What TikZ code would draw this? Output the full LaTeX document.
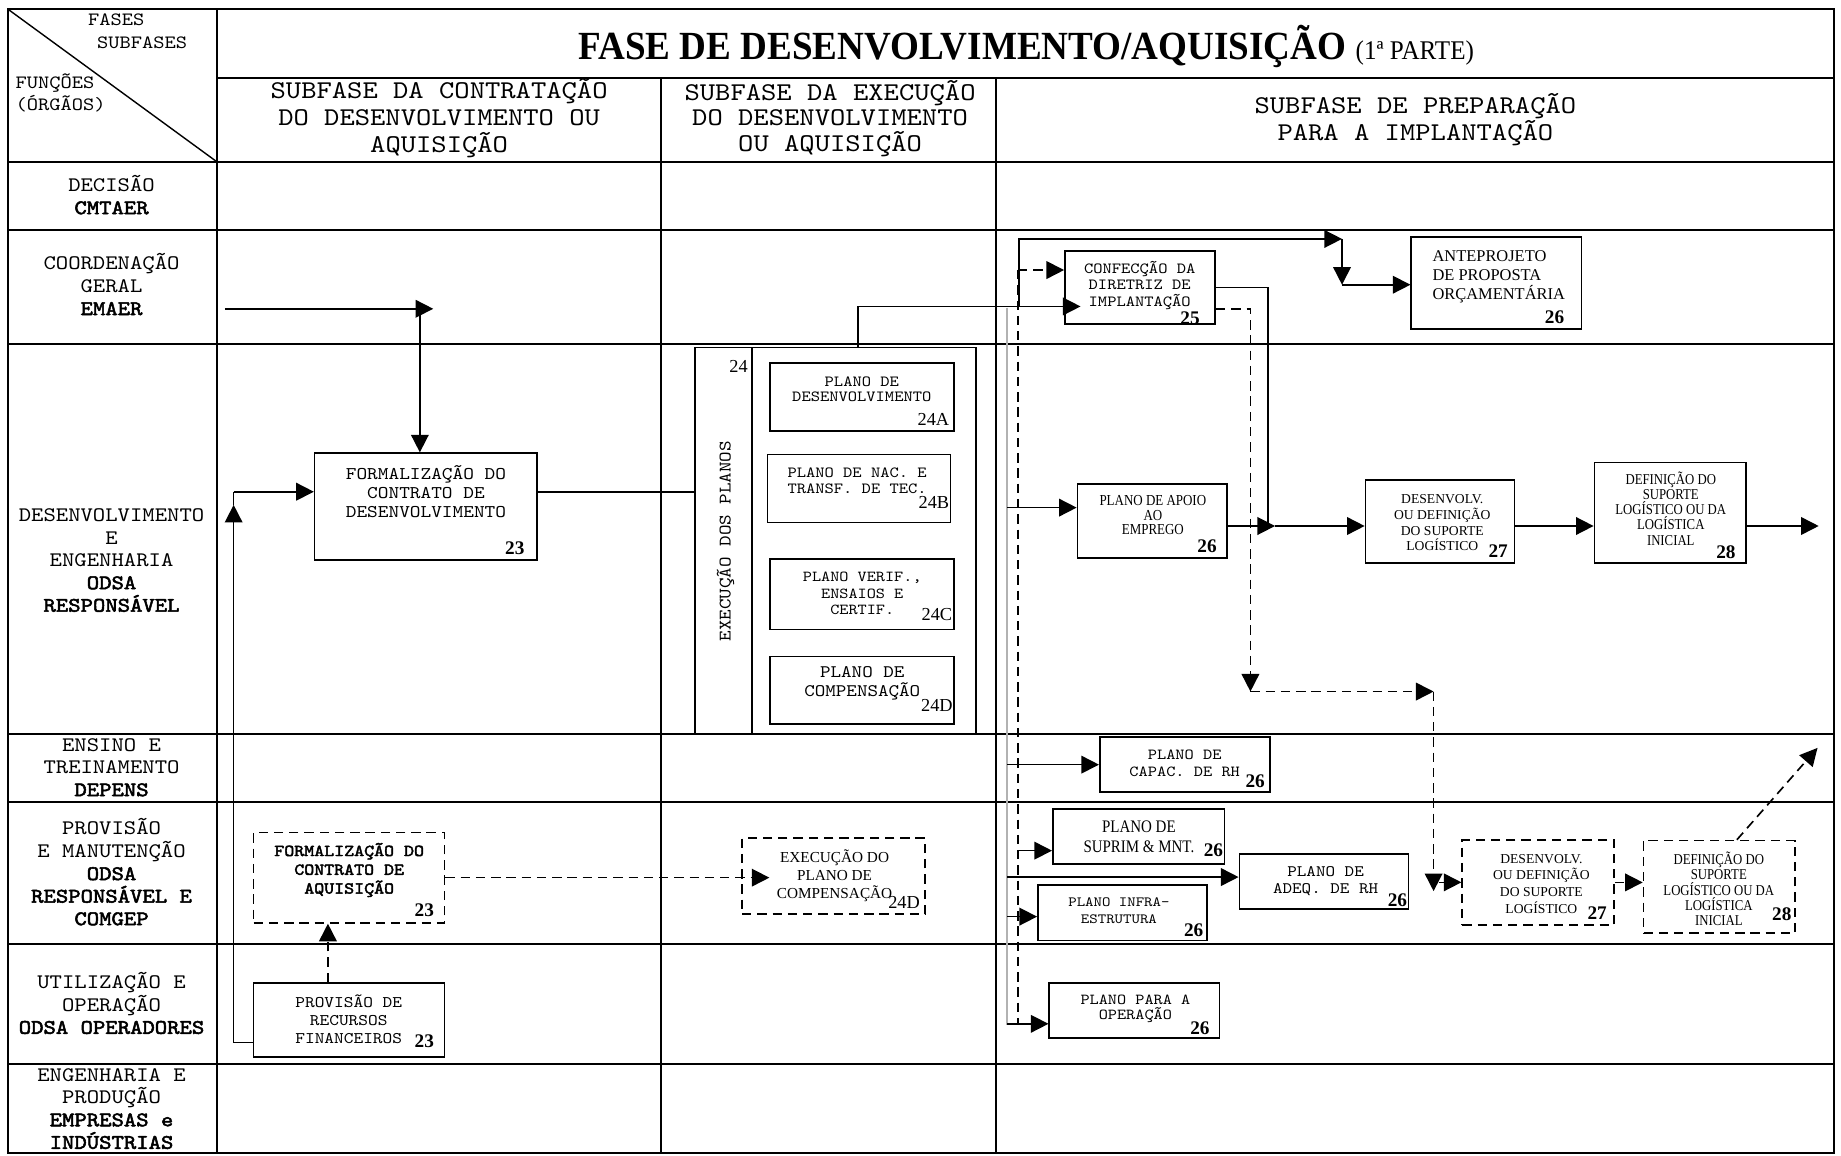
\documentclass[tikz,border=0pt]{standalone}
\usepackage{fontspec}
\setmainfont{Liberation Serif}
\setmonofont{lmmono10-regular}[Extension=.otf, FakeStretch=1.14,
    BoldFont=lmmono10-regular, BoldFeatures={FakeBold=2.5}]
\newfontfamily\condser[FakeStretch=0.85]{Liberation Serif}
\newfontfamily\titleser[FakeStretch=0.93]{Liberation Serif}
\usetikzlibrary{arrows.meta, positioning, fit, calc}

\begin{document}
\begin{tikzpicture}[
    x=0.5pt, y=-0.5pt,
    >={Triangle[length=7.5pt, width=7.5pt]},
    tline/.style={line width=0.8pt},
    box/.style={draw, line width=0.7pt, inner sep=0pt},
    dbox/.style={box, dash pattern=on 4pt off 2.5pt},
    mono/.style 2 args={font=\ttfamily\fontsize{#1}{#2}\selectfont, align=center, inner sep=0pt},
    bmono/.style 2 args={font=\ttfamily\bfseries\fontsize{#1}{#2}\selectfont, align=center, inner sep=0pt},
    ser/.style 2 args={font=\rmfamily\fontsize{#1}{#2}\selectfont, align=center, inner sep=0pt},
    cser/.style 2 args={font=\condser\fontsize{#1}{#2}\selectfont, align=center, inner sep=0pt},
    lbl/.style={mono={8.8}{9.6}},
    hdr/.style={font=\ttfamily\fontsize{10.9}{#1}\selectfont, align=center, inner sep=0pt},
    num/.style={font=\rmfamily\bfseries\fontsize{8.2}{8}\selectfont, inner sep=0pt},
    sub/.style={font=\rmfamily\fontsize{7.8}{8}\selectfont, inner sep=0pt},
    conn/.style={line width=0.7pt},
    arr/.style={conn, ->},
    dsh/.style={conn, dash pattern=on 4pt off 2.5pt},
    darr/.style={dsh, ->},
    bus/.style={line width=0.9pt, gray!60},
]
\path[use as bounding box, fill=white] (0,0) rectangle (1568,984);

% table frame
\draw[tline] (7,8) rectangle (1562,982);
\draw[tline] (185,8) -- (185,982);
\draw[tline] (185,66.5) -- (1562,66.5);
\draw[tline] (563,66.5) -- (563,982);
\draw[tline] (848,66.5) -- (848,982);
\foreach \y in {138,196,293,625,683,804,906}
    \draw[tline] (7,\y) -- (1562,\y);
\draw[line width=0.6pt] (7,8) -- (185,138);

% corner cell and headers
\node[mono={8}{8}] (hFases) at (99,17) {FASES};
\node[mono={8}{8}] (hSub) at (121,36) {SUBFASES};
\node[mono={8}{6.6}, align=left, anchor=west] (hFunc) at (13,79) {FUNÇÕES\\(ÓRGÃOS)};
\node[font=\titleser\bfseries\fontsize{17}{17}\selectfont, anchor=base, inner sep=0pt] (title) at (874,51)
    {FASE DE DESENVOLVIMENTO/AQUISIÇÃO {\mdseries\fontsize{11.5}{12}\selectfont(1ª PARTE)}};
\node[hdr=11.5] (sf1) at (374,101) {SUBFASE DA CONTRATAÇÃO\\DO DESENVOLVIMENTO OU\\AQUISIÇÃO};
\node[hdr=10.8] (sf2) at (707,101) {SUBFASE DA EXECUÇÃO\\DO DESENVOLVIMENTO\\OU AQUISIÇÃO};
\node[hdr=10.8] (sf3) at (1205.5,102) {SUBFASE DE PREPARAÇÃO\\PARA A IMPLANTAÇÃO};

% functions (rows)
\node[lbl] (rDec) at (95,166) {DECISÃO\\\textbf{CMTAER}};
\node[lbl] (rCoord) at (95,242.3) {COORDENAÇÃO\\GERAL\\\textbf{EMAER}};
\node[lbl] (rDes) at (95,477.2) {DESENVOLVIMENTO\\E\\ENGENHARIA\\\textbf{ODSA}\\\textbf{RESPONSÁVEL}};
\node[lbl] (rEns) at (95,653.5) {ENSINO E\\TREINAMENTO\\\textbf{DEPENS}};
\node[lbl] (rProv) at (95,742.75) {PROVISÃO\\E MANUTENÇÃO\\\textbf{ODSA}\\\textbf{RESPONSÁVEL E}\\\textbf{COMGEP}};
\node[lbl] (rUti) at (95,854.5) {UTILIZAÇÃO E\\OPERAÇÃO\\\textbf{ODSA OPERADORES}};
\node[lbl] (rEng) at (95,944.25) {ENGENHARIA E\\PRODUÇÃO\\\textbf{EMPRESAS e}\\\textbf{INDÚSTRIAS}};

% subfase da contratacao
\node[box, fit={(268,386) (457.6,477)}] (fdev) {};
\node[mono={7.6}{8.1}] (fdevT) at (362.8,418.8) {FORMALIZAÇÃO DO\\CONTRATO DE\\DESENVOLVIMENTO};
\node[num] (fdevN) at (438.5,467) {23};

\node[dbox, fit={(216,709) (378.6,786)}] (faq) {};
\node[bmono={7.1}{8}] (faqT) at (297.4,741) {FORMALIZAÇÃO DO\\CONTRATO DE\\AQUISIÇÃO};
\node[num] (faqN) at (361.4,775) {23};

\node[box, fit={(216,837) (378.6,900)}] (prov) {};
\node[mono={6.9}{7.6}] (provT) at (297,868) {PROVISÃO DE\\RECURSOS\\FINANCEIROS};
\node[num] (provN) at (361.4,887) {23};

% subfase da execucao
\node[box, fit={(592,296) (831,625)}] (exo) {};
\draw[line width=0.7pt] (640.7,296) -- (640.7,625);
\node[sub] (exN) at (629,312) {24};
\node[mono={7.5}{7.5}, rotate=90] (exT) at (618,461) {EXECUÇÃO DOS PLANOS};

\node[box, fit={(656,309) (812.5,367)}] (p24a) {};
\node[mono={6.6}{6.65}] (p24aT) at (734,331.5) {PLANO DE\\DESENVOLVIMENTO};
\node[sub] (p24aN) at (795,357) {24A};
\node[box, fit={(653.7,387) (809.5,445)}] (p24b) {};
\node[mono={6.6}{6.7}] (p24bT) at (730,409.3) {PLANO DE NAC. E\\TRANSF. DE TEC.};
\node[sub] (p24bN) at (795.4,428) {24B};
\node[box, fit={(656,476) (812.5,536)}] (p24c) {};
\node[mono={6.5}{6.9}] (p24cT) at (734.4,505.5) {PLANO VERIF.,\\ENSAIOS E\\CERTIF.};
\node[sub] (p24cN) at (798,523) {24C};
\node[box, fit={(656,559) (812.5,616.5)}] (p24d) {};
\node[mono={7.5}{8}] (p24dT) at (734.4,582) {PLANO DE\\COMPENSAÇÃO};
\node[sub] (p24dN) at (798,601) {24D};

\node[dbox, fit={(632,714) (788,778.7)}] (ecomp) {};
\node[ser={6.5}{7.7}] (ecompT) at (710.8,745.7) {EXECUÇÃO DO\\PLANO DE\\COMPENSAÇÃO};
\node[sub] (ecompN) at (770,768.7) {24D};

% subfase de preparacao
\node[box, fit={(907,214) (1035,276)}] (conf) {};
\node[mono={6.6}{6.9}] (confT) at (970.7,243.2) {CONFECÇÃO DA\\DIRETRIZ DE\\IMPLANTAÇÃO};
\node[num] (confN) at (1013.6,271) {25};

\node[box, fit={(1202,202) (1347,280)}] (ante) {};
\node[ser={7}{8}, align=left, anchor=west] (anteT) at (1219.7,236) {ANTEPROJETO\\DE PROPOSTA\\ORÇAMENTÁRIA};
\node[num] (anteN) at (1324,270) {26};

\node[box, fit={(917.7,412.5) (1045,475)}] (apoio) {};
\node[cser={6.5}{6.2}] (apoioT) at (981.9,438.9) {PLANO DE APOIO\\AO\\EMPREGO};
\node[num] (apoioN) at (1028,465) {26};

\node[box, fit={(1163,408.6) (1290,479.5)}] (d27) {};
\node[ser={5.8}{6.7}] (d27T) at (1228.4,445.3) {DESENVOLV.\\OU DEFINIÇÃO\\DO SUPORTE\\LOGÍSTICO};
\node[num] (d27N) at (1276,469.6) {27};

\node[box, fit={(1358,394) (1487,479.5)}] (d28) {};
\node[cser={6.4}{6.5}] (d28T) at (1423,433) {DEFINIÇÃO DO\\SUPORTE\\LOGÍSTICO OU DA\\LOGÍSTICA\\INICIAL};
\node[num] (d28N) at (1470,470) {28};

\node[box, fit={(936.7,627.8) (1081.5,674.7)}] (capac) {};
\node[mono={6.55}{7}] (capacT) at (1009,650) {PLANO DE\\CAPAC. DE RH};
\node[num] (capacN) at (1069,665.6) {26};

\node[box, fit={(896.7,689) (1043,736)}] (suprim) {};
\node[cser={7.5}{8.25}] (suprimT) at (970,712.8) {PLANO DE\\SUPRIM \& MNT.};
\node[num] (suprimN) at (1033.5,724) {26};

\node[box, fit={(1055.6,727.6) (1199.6,774.4)}] (adeq) {};
\node[mono={6.8}{7.4}] (adeqT) at (1129,750.6) {PLANO DE\\ADEQ. DE RH};
\node[num] (adeqN) at (1190.2,766.5) {26};

\node[box, fit={(884,754) (1028,801)}] (infra) {};
\node[mono={6}{7.2}] (infraT) at (953,776) {PLANO INFRA-\\ESTRUTURA};
\node[num] (infraN) at (1016.7,792) {26};

\node[box, fit={(893.7,837) (1038.5,884)}] (oper) {};
\node[mono={6.5}{6.7}] (operT) at (967,859.3) {PLANO PARA A\\OPERAÇÃO};
\node[num] (operN) at (1022,876) {26};

\node[dbox, fit={(1245.4,715.3) (1374.8,787.8)}] (d27b) {};
\node[ser={5.8}{7.1}] (d27bT) at (1312.8,752.7) {DESENVOLV.\\OU DEFINIÇÃO\\DO SUPORTE\\LOGÍSTICO};
\node[num] (d27bN) at (1360.3,777.8) {27};

\node[dbox, fit={(1399.8,715.9) (1528.9,794.9)}] (d28b) {};
\node[cser={6.4}{6.4}] (d28bT) at (1463.9,757) {DEFINIÇÃO DO\\SUPORTE\\LOGÍSTICO OU DA\\LOGÍSTICA\\INICIAL};
\node[num] (d28bN) at (1517.6,778.4) {28};

% coordination arrows
\coordinate (eL) at (191.5,263);
\coordinate (eJ) at (357.6,263);
\coordinate (eR) at (369,263);
\draw[arr] (eL) -- (eR);
\draw[arr] (eJ) -- (eJ |- fdev.north);

% resources loop into the contract
\coordinate (pL) at (199,888);
\coordinate (pU) at (199,430);
\coordinate (pC) at (199,418.8);
\draw[arr] (prov.west |- pL) -| (pU);
\draw[conn] (pU) -- (pC);
\draw[arr] (pC) -- (fdev.west |- pC);
\draw[conn] (fdev.east |- pC) -- (exo.west |- pC);

% plans to the directive
\coordinate (xT) at (730.6,261);
\coordinate (cIn) at ([xshift=7pt]conf.west);
\draw[arr] (exo.north -| xT) -- (xT) -- (cIn |- xT);

\coordinate (jT) at (868,261);
\coordinate (tR) at (1143,203.5);
\coordinate (tD) at (1143,242.5);
\draw[arr] (jT) |- (tR);
\draw[arr] (tR) -- (tD);
\draw[arr] (tD) -- (ante.west |- tD);

% main chain 26 -> 27 -> 28
\coordinate (jV) at (1080,448);
\coordinate (jA) at (1086,448);
\coordinate (oR) at (1549,448);
\draw[conn] (conf.east) -| (jV);
\draw[arr] (apoio.east |- jA) -- (jA);
\draw[arr] (jA) -- (d27.west |- jA);
\draw[arr] (d27.east |- jA) -- (d28.west |- jA);
\draw[arr] (d28.east |- jA) -- (oR);

% dashed branch for acquisition
\coordinate (dA) at (1065,263);
\coordinate (dB) at (1065,589);
\coordinate (dC) at (1221,589);
\coordinate (dD) at (1221,759);
\coordinate (dE) at (1225.5,751.5);
\draw[darr] (conf.east |- dA) -| (dB);
\draw[darr] (dB) -- (dC);
\draw[darr] (dC) -- (dD);
\draw[darr] (dE) -- (d27b.west |- dE);
\draw[darr] (d27b.east) -- (d27b.east -| d28b.west);
\coordinate (dUp) at (1548,637);
\draw[darr] ([xshift=7.5pt]d28b.north) -- (dUp);

% distribution lines
\coordinate (bT) at (858,262);
\coordinate (bB) at (858,873);
\draw[bus] (bT) -- (bB);
\coordinate (dV) at (867,230);
\coordinate (dVb) at (867,872);
\draw[dsh] (dV) -- (dVb);
\draw[darr] (dV) -- (dV -| conf.west);

\coordinate (aIn) at ([yshift=5.7pt]apoio.west);
\draw[arr] (aIn -| bT) -- (aIn);
\draw[arr] (capac.west -| bT) -- (capac.west);
\coordinate (sIn) at ([yshift=-6pt]suprim.west);
\draw[arr] (sIn -| dV) -- (sIn);
\coordinate (qIn) at ([yshift=2pt]adeq.west);
\draw[arr] (qIn -| bT) -- (qIn);
\coordinate (iIn) at ([yshift=-1.6pt]infra.west);
\draw[arr] (iIn -| bT) -- (iIn);
\coordinate (oIn) at ([yshift=-5.75pt]oper.west);
\draw[arr] (oIn -| bT) -- (oIn);

% acquisition (dashed) path
\coordinate (eTip) at ([xshift=12pt]ecomp.west);
\draw[darr] (faq.east) -- (eTip |- faq.east);
\draw[darr] ([xshift=-9pt]prov.north) -- ([xshift=-9pt]faq.south);
\end{tikzpicture}
\end{document}
